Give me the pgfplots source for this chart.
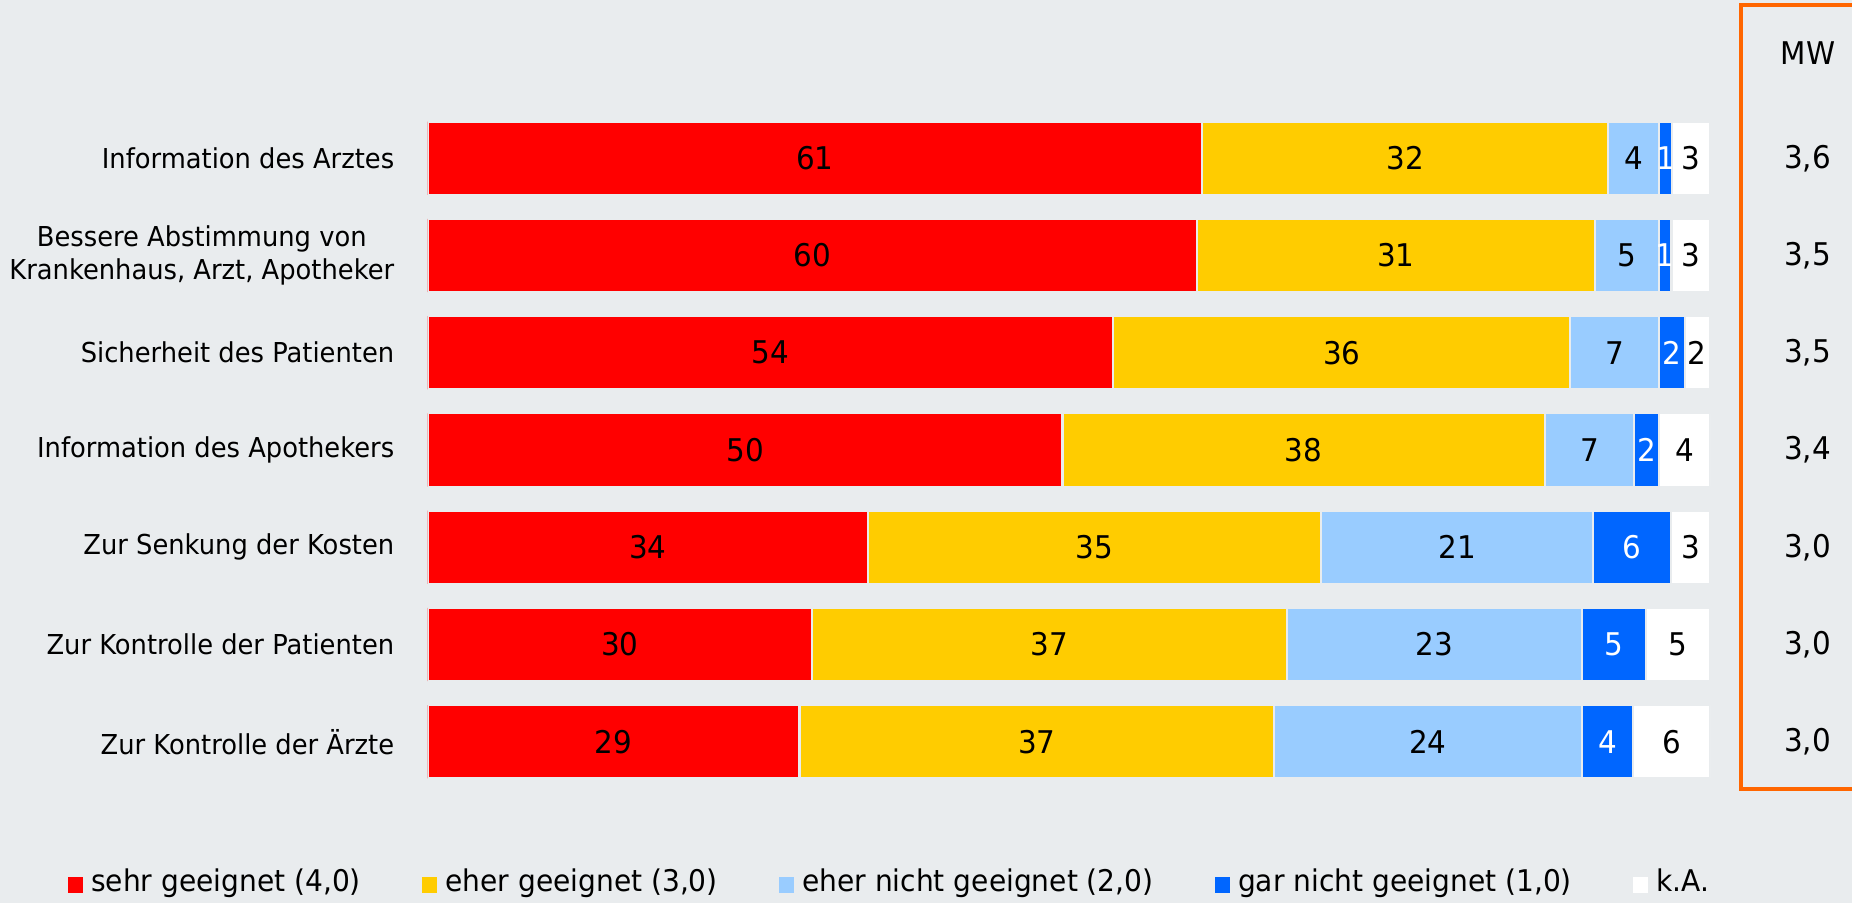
\documentclass[border=0pt]{standalone}
\usepackage{fontspec}
\setmainfont{DejaVu Sans}[FakeStretch=0.94]
\usepackage{pgfplots}
\usepackage{pgfplotstable}
\pgfplotsset{compat=1.18}

\definecolor{bg}{HTML}{E9ECEE}
\definecolor{cRed}{HTML}{FF0000}
\definecolor{cYel}{HTML}{FFCC00}
\definecolor{cLBlue}{HTML}{99CCFF}
\definecolor{cBlue}{HTML}{0066FF}
\definecolor{cOrange}{HTML}{FF6600}

\newcommand\catfont{\fontsize{7.8pt}{9.4pt}\selectfont}
\newcommand\numfont{\fontsize{8.9pt}{10pt}\selectfont}
\newcommand\legfont{\fontsize{8.5pt}{10pt}\selectfont}

% answers in percent, each row is scaled to 100 (100 % stacked bars)
\pgfplotstableread{
y a  b  c  d e
6 61 32 4  1 3
5 60 31 5  1 3
4 54 36 7  2 2
3 50 38 7  2 4
2 34 35 21 6 3
1 30 37 23 5 5
0 29 37 24 4 6
}\ratings

% mean values (MW)
\pgfplotstableread{
x     y mw
107.6 6 3.6
107.6 5 3.5
107.6 4 3.5
107.6 3 3.4
107.6 2 3.0
107.6 1 3.0
107.6 0 3.0
}\means

\newcommand\tot{(\thisrow{a}+\thisrow{b}+\thisrow{c}+\thisrow{d}+\thisrow{e})}

\pgfplotsset{
  /pgf/number format/assume math mode=true,
  frame/.style={
    at={(4.276cm,1.127cm)}, anchor=south west,
    scale only axis, width=12.824cm, height=6.806cm,
    xmin=0, xmax=100, ymin=-0.5, ymax=6.5,
  },
}

\begin{document}
\begin{tikzpicture}
\useasboundingbox (0,0) rectangle (18.52cm,9.03cm);
\clip (0,0) rectangle (18.52cm,9.03cm);
\fill[bg] (0,0) rectangle (18.52cm,9.03cm);
\draw[cOrange, line width=0.95pt] (17.41cm,1.14cm) rectangle (19cm,8.98cm);
\node[font=\numfont] at (18.08cm,8.50cm) {MW};

\begin{axis}[
    frame,
    xbar stacked,
    bar width=0.732cm,
    axis line style={draw=none},
    xtick=\empty,
    ytick={0,...,6},
    yticklabels={Zur Kontrolle der Ärzte, Zur Kontrolle der Patienten,
      Zur Senkung der Kosten, Information des Apothekers,
      Sicherheit des Patienten,
      {Bessere Abstimmung von\\Krankenhaus, Arzt, Apotheker},
      Information des Arztes},
    yticklabel style={align=center, font=\catfont, xshift=-0.21cm},
    major tick length=0pt,
    point meta=explicit,
    nodes near coords,
    every node near coord/.append style={anchor=center, font=\numfont},
    legend columns=5,
    legend image code/.code={\path[#1, draw=none] (0cm,-0.095cm) rectangle (0.155cm,0.06cm);},
    legend style={draw=none, fill=none, inner sep=0pt,
      at={(axis description cs:-0.2812,-0.1362)}, anchor=west,
      font=\legfont, nodes={inner sep=0pt},
      /tikz/every odd column/.append style={column sep=0.08cm},
      /tikz/every even column/.append style={column sep=0.61cm}},
  ]
  \addplot[fill=cRed, draw=bg, line width=0.6pt]
    table[y=y, x expr=100*\thisrow{a}/\tot, meta=a] {\ratings};
  \addlegendentry{sehr geeignet (4,0)}
  \addplot[fill=cYel, draw=bg, line width=0.6pt]
    table[y=y, x expr=100*\thisrow{b}/\tot, meta=b] {\ratings};
  \addlegendentry{eher geeignet (3,0)}
  \addplot[fill=cLBlue, draw=bg, line width=0.6pt]
    table[y=y, x expr=100*\thisrow{c}/\tot, meta=c] {\ratings};
  \addlegendentry{eher nicht geeignet (2,0)}
  \addplot[fill=cBlue, draw=bg, line width=0.6pt,
    every node near coord/.append style={text=white}]
    table[y=y, x expr=100*\thisrow{d}/\tot, meta=d] {\ratings};
  \addlegendentry{gar nicht geeignet (1,0)}
  \addplot[fill=white, draw=bg, line width=0.6pt]
    table[y=y, x expr=100*\thisrow{e}/\tot, meta=e] {\ratings};
  \addlegendentry{k.A.}
\end{axis}

\begin{axis}[
    frame,
    hide axis,
    clip=false,
    point meta=explicit,
    nodes near coords={\pgfmathprintnumber[fixed, fixed zerofill, precision=1, use comma]{\pgfplotspointmeta}},
    every node near coord/.append style={anchor=center, font=\numfont},
  ]
  \addplot[draw=none, mark=none] table[x=x, y=y, meta=mw] {\means};
\end{axis}
\end{tikzpicture}
\end{document}
